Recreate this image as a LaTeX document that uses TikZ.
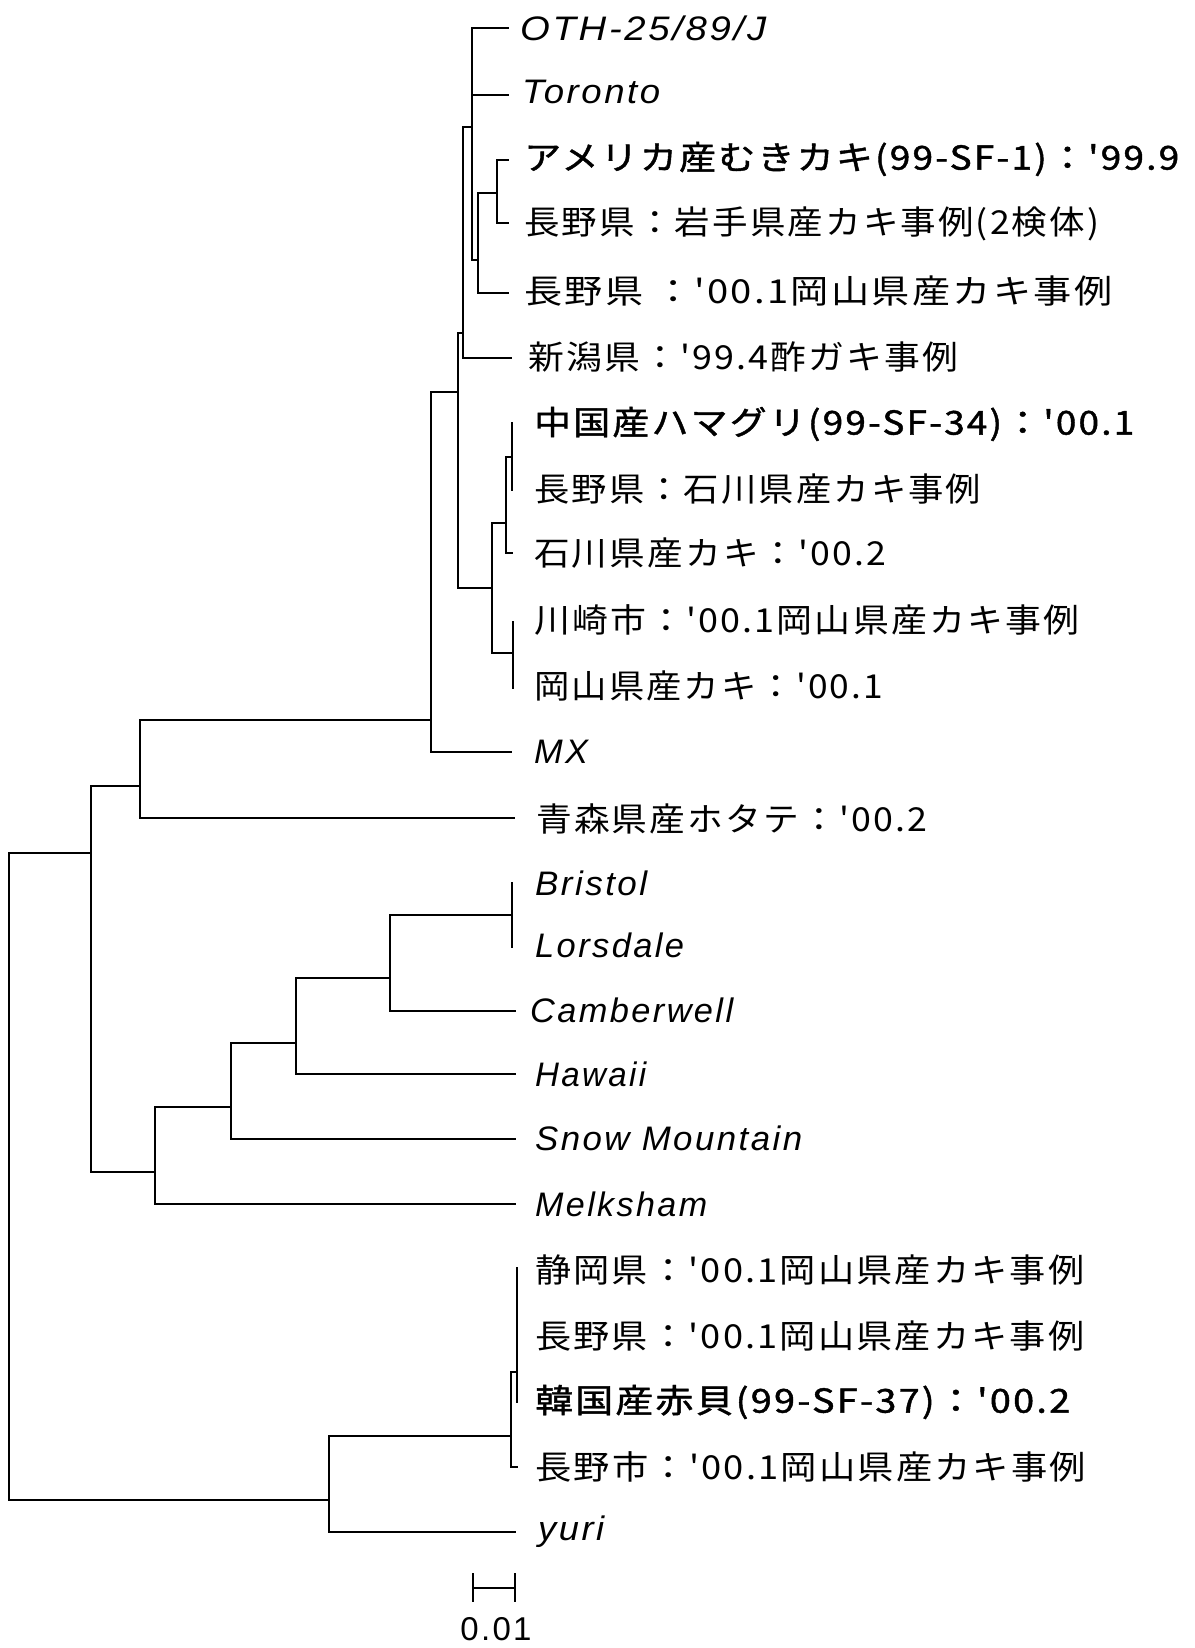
\documentclass[tikz,border=0pt]{standalone}
\usepackage{fontspec}
\usepackage{graphicx}
\setmainfont{Liberation Sans}
\newfontfamily\jp[LetterSpace=6]{Noto Sans CJK JP}
\newfontfamily\jpb[LetterSpace=6,FakeBold=1.2]{Noto Sans CJK JP}
\newfontfamily\lat[LetterSpace=7]{Liberation Sans}
\newsavebox\lblbox
\newcommand\fitw[2]{\sbox\lblbox{#2}\scalebox{\fpeval{(#1pt)/(\the\wd\lblbox)}}[1]{\usebox\lblbox}}
\tikzset{
  branch/.style={line width=2.7pt, line join=miter, line cap=rect},
  jl/.style={anchor=west, inner sep=0pt, font=\jp\fontsize{33}{38}\selectfont},
  jlb/.style={anchor=west, inner sep=0pt, font=\jpb\fontsize{33}{38}\selectfont},
  il/.style={anchor=west, inner sep=0pt, font=\lat\itshape\fontsize{34}{40}\selectfont},
}
\begin{document}
\begin{tikzpicture}[x=1pt,y=-1pt]
\useasboundingbox[fill=white] (0,0) rectangle (1194,1648);
% internal nodes
\coordinate (root) at (9,1176);
\coordinate (L) at (91,853);
\coordinate (K) at (140,786);
\coordinate (J) at (431,720);
\coordinate (E) at (458,392);
\coordinate (D) at (463,333);
\coordinate (A) at (472,127);
\coordinate (B) at (478,260);
\coordinate (C) at (497,193);
\coordinate (F) at (492,588);
\coordinate (G) at (506,523);
\coordinate (H) at (512,457);
\coordinate (I) at (513,653);
\coordinate (P) at (155,1172);
\coordinate (O) at (231,1107);
\coordinate (N) at (296,1043);
\coordinate (M) at (390,978);
\coordinate (BL) at (512,915);
\coordinate (S) at (329,1500);
\coordinate (R) at (511,1436);
\coordinate (Q) at (517,1372);
% leaf tips
\coordinate (t1) at (508,28);
\coordinate (t2) at (508,95);
\coordinate (t3) at (508,160);
\coordinate (t4) at (508,223);
\coordinate (t5) at (508,293);
\coordinate (t6) at (511,358);
\coordinate (t7) at (512,423);
\coordinate (t8) at (512,490);
\coordinate (t9) at (512,553);
\coordinate (t10) at (513,622);
\coordinate (t11) at (513,688);
\coordinate (t12) at (511,752);
\coordinate (t13) at (514,818);
\coordinate (t14) at (512,883);
\coordinate (t15) at (512,947);
\coordinate (t16) at (515,1011);
\coordinate (t17) at (515,1074);
\coordinate (t18) at (515,1139);
\coordinate (t19) at (515,1204);
\coordinate (t20) at (517,1268);
\coordinate (t21) at (517,1336);
\coordinate (t22) at (517,1402);
\coordinate (t23) at (517,1467);
\coordinate (t24) at (515,1532);
% branches
\draw[branch] (root) |- (L);
\draw[branch] (root) |- (S);
\draw[branch] (L) |- (K);
\draw[branch] (L) |- (P);
\draw[branch] (K) |- (J);
\draw[branch] (K) |- (t13);
\draw[branch] (J) |- (E);
\draw[branch] (J) |- (t12);
\draw[branch] (E) |- (D);
\draw[branch] (E) |- (F);
\draw[branch] (D) |- (A);
\draw[branch] (D) |- (t6);
\draw[branch] (A) |- (t1);
\draw[branch] (A) |- (t2);
\draw[branch] (A) |- (B);
\draw[branch] (B) |- (C);
\draw[branch] (B) |- (t5);
\draw[branch] (C) |- (t3);
\draw[branch] (C) |- (t4);
\draw[branch] (F) |- (G);
\draw[branch] (F) |- (I);
\draw[branch] (G) |- (H);
\draw[branch] (G) |- (t9);
\draw[branch] (H) |- (t7);
\draw[branch] (H) |- (t8);
\draw[branch] (I) |- (t10);
\draw[branch] (I) |- (t11);
\draw[branch] (P) |- (O);
\draw[branch] (P) |- (t19);
\draw[branch] (O) |- (N);
\draw[branch] (O) |- (t18);
\draw[branch] (N) |- (M);
\draw[branch] (N) |- (t17);
\draw[branch] (M) |- (BL);
\draw[branch] (M) |- (t16);
\draw[branch] (BL) |- (t14);
\draw[branch] (BL) |- (t15);
\draw[branch] (S) |- (R);
\draw[branch] (S) |- (t24);
\draw[branch] (R) |- (Q);
\draw[branch] (R) |- (t23);
\draw[branch] (Q) |- (t20);
\draw[branch] (Q) |- (t21);
\draw[branch] (Q) |- (t22);
% labels
\node[il] (n1) at (520,28) {\fitw{246}{OTH-25/89/J}};
\node[il] (n2) at (522,92) {\fitw{138}{Toronto}};
\node[jlb] (n3) at (524,159) {\fitw{655}{アメリカ産むきカキ(99-SF-1)：'99.9}};
\node[jl] (n4) at (524,224) {\fitw{575}{長野県：岩手県産カキ事例(2検体)}};
\node[jl] (n5) at (524,291) {\fitw{588}{長野県 ：'00.1岡山県産カキ事例}};
\node[jl] (n6) at (528,357) {\fitw{430}{新潟県：'99.4酢ガキ事例}};
\node[jlb] (n7) at (534,424) {\fitw{600}{中国産ハマグリ(99-SF-34)：'00.1}};
\node[jl] (n8) at (534,489) {\fitw{447}{長野県：石川県産カキ事例}};
\node[jl] (n9) at (534,553) {\fitw{352}{石川県産カキ：'00.2}};
\node[jl] (n10) at (534,620) {\fitw{545}{川崎市：'00.1岡山県産カキ事例}};
\node[jl] (n11) at (534,686) {\fitw{349}{岡山県産カキ：'00.1}};
\node[il] (n12) at (534,752) {\fitw{54}{MX}};
\node[jl] (n13) at (536,819) {\fitw{391}{青森県産ホタテ：'00.2}};
\node[il] (n14) at (535,883) {\fitw{112}{Bristol}};
\node[il] (n15) at (535,945) {\fitw{149}{Lorsdale}};
\node[il] (n16) at (530,1010) {\fitw{203}{Camberwell}};
\node[il] (n17) at (535,1074) {\fitw{111}{Hawaii}};
\node[il] (n18) at (535,1138) {\fitw{267}{Snow Mountain}};
\node[il] (n19) at (535,1204) {\fitw{172}{Melksham}};
\node[jl] (n20) at (535,1270) {\fitw{549}{静岡県：'00.1岡山県産カキ事例}};
\node[jl] (n21) at (535,1336) {\fitw{549}{長野県：'00.1岡山県産カキ事例}};
\node[jlb] (n22) at (535,1402) {\fitw{535}{韓国産赤貝(99-SF-37)：'00.2}};
\node[jl] (n23) at (535,1467) {\fitw{551}{長野市：'00.1岡山県産カキ事例}};
\node[il] (n24) at (538,1532) {\fitw{66}{yuri}};
% scale bar
\coordinate (sbL) at (473,1588);
\coordinate (sbR) at (515,1588);
\coordinate (sbLt) at (473,1573);
\coordinate (sbLb) at (473,1602);
\coordinate (sbRt) at (515,1573);
\coordinate (sbRb) at (515,1602);
\draw[line width=2.4pt] (sbL) -- (sbR);
\draw[line width=2.4pt] (sbLt) -- (sbLb);
\draw[line width=2.4pt] (sbRt) -- (sbRb);
\node[inner sep=0pt, font=\lat\fontsize{33}{38}\selectfont] (sbl) at (496,1629) {0.01};
\end{tikzpicture}
\end{document}
